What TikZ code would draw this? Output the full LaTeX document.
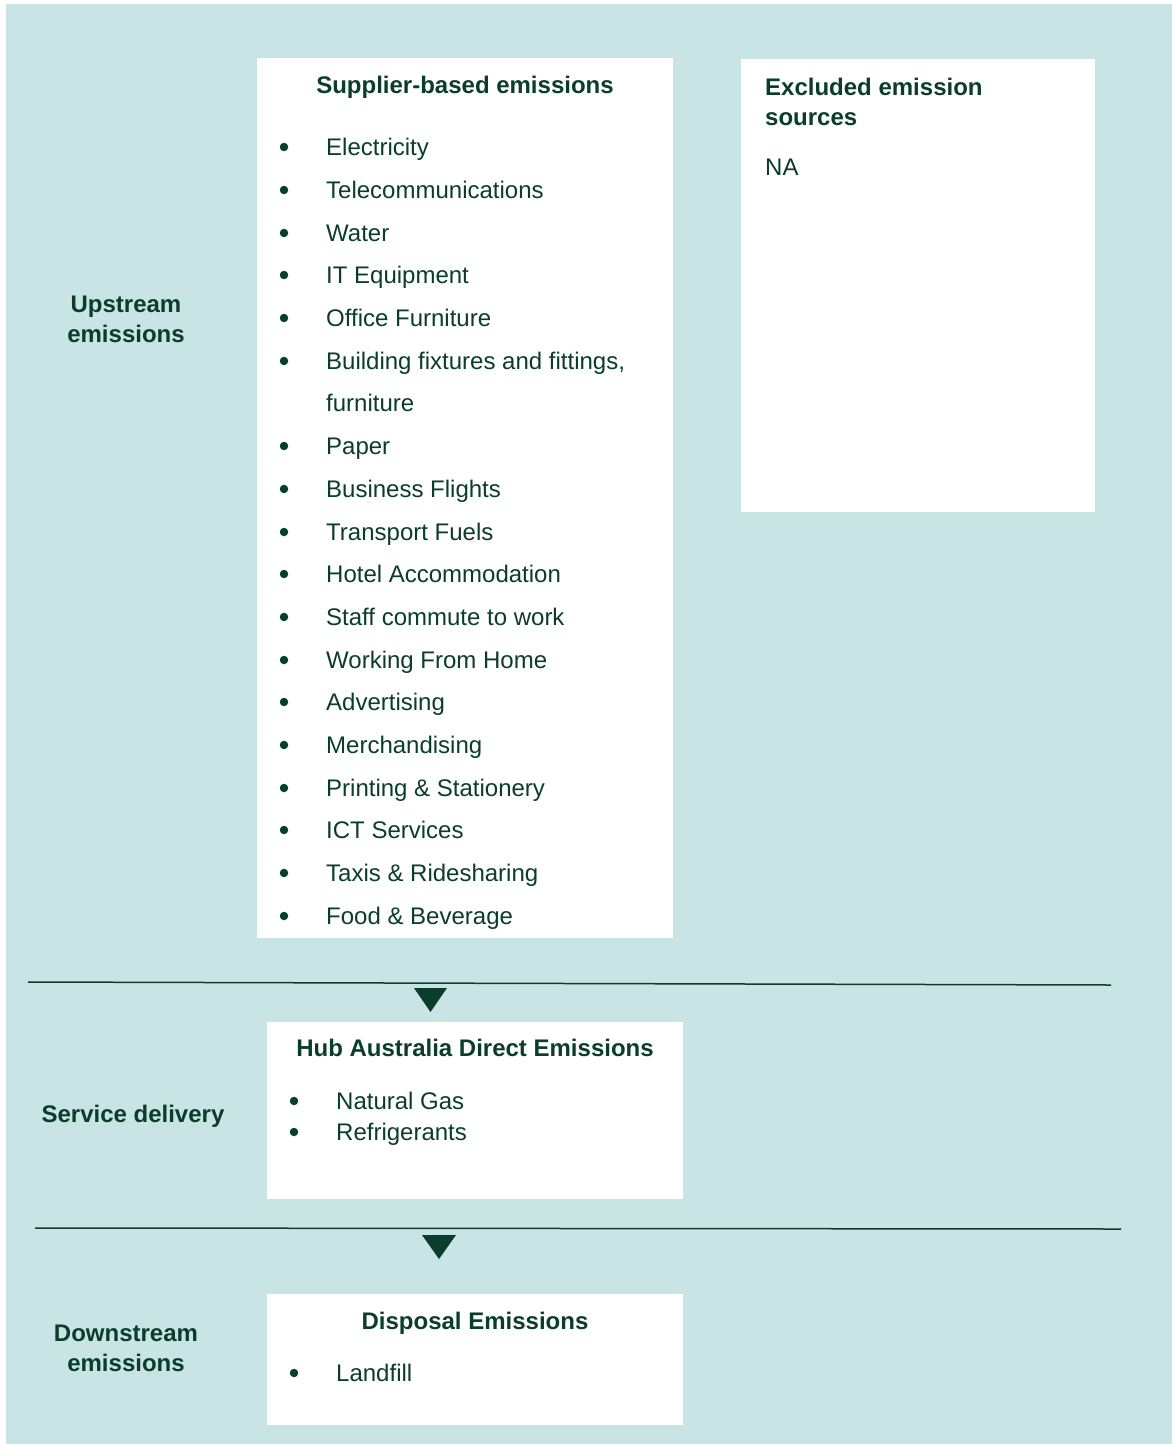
\documentclass[tikz,border=0pt]{standalone}
\usepackage{fontspec}
\setmainfont{Liberation Sans}
\definecolor{bgteal}{HTML}{C9E4E5}
\definecolor{ink}{HTML}{0B3D2C}
\tikzset{
  panel/.style={fill=white, inner sep=0pt, anchor=north west},
  head/.style={font=\bfseries\fontsize{24}{30}\selectfont, text=ink, inner sep=0pt},
  entry/.style={font=\fontsize{24}{30}\selectfont, text=ink, inner sep=0pt, anchor=base west},
  dot/.style={circle, fill=ink, inner sep=0pt, minimum size=8.5pt},
  rule/.style={draw=ink, line width=1.5pt}
}
\begin{document}
\begin{tikzpicture}[x=1pt, y=-1pt]
    \useasboundingbox (0,0) rectangle (1172,1444);
    \fill[white] (0,0) rectangle (1172,1444);
    \fill[bgteal] (6,4) rectangle (1172,1444);
    % panels
    \node (sup) at (257,58) [panel, minimum width=416pt, minimum height=880pt] {};
    \node (exc) at (741,59) [panel, minimum width=354pt, minimum height=453pt] {};
    \node (hub) at (267,1022) [panel, minimum width=416pt, minimum height=177pt] {};
    \node (dis) at (267,1294) [panel, minimum width=416pt, minimum height=131pt] {};
    % stage labels
    \node (up) at (126,296) [head, anchor=north, align=center] {Upstream\\emissions};
    \node (sd) at (133,1122) [head, anchor=base] {Service delivery};
    \node (down) at (126,1325) [head, anchor=north, align=center] {Downstream\\emissions};
    % supplier list
    \node (h1) at (465,93) [head, anchor=base] {Supplier-based emissions};
    \foreach \y/\txt in {147/Electricity, 190/Telecommunications, 233/Water,
        275/IT Equipment, 318/Office Furniture, 361/{Building fixtures and fittings,},
        446/Paper, 489/Business Flights, 532/Transport Fuels,
        574/Hotel Accommodation, 617/Staff commute to work, 660/Working From Home,
        702/Advertising, 745/Merchandising, 788/Printing \& Stationery,
        830/ICT Services, 873/Taxis \& Ridesharing, 916/Food \& Beverage} {
      \node (b\y) at (284,\y) [dot] {};
      \node (t\y) at (326,\y+8) [entry] {\txt};
    }
    \node (t403) at (326,411) [entry] {furniture};
    % excluded
    \node (h2) at (765,78) [head, anchor=north west, align=left] {Excluded emission\\sources};
    \node (na) at (765,175) [entry] {NA};
    % direct
    \node (h3) at (475,1056) [head, anchor=base] {Hub Australia Direct Emissions};
    \node (b1) at (294,1101) [dot] {};
    \node (n1) at (336,1109) [entry] {Natural Gas};
    \node (b2) at (294,1132) [dot] {};
    \node (n2) at (336,1140) [entry] {Refrigerants};
    % disposal
    \node (h4) at (475,1329) [head, anchor=base] {Disposal Emissions};
    \node (b3) at (294,1373) [dot] {};
    \node (n3) at (336,1381) [entry] {Landfill};
    % dividers
    \coordinate (r1) at (28,982);
    \coordinate (r2) at (1111,985);
    \coordinate (r3) at (35,1228);
    \coordinate (r4) at (1121,1229);
    \draw[rule] (r1) -- (r2);
    \draw[rule] (r3) -- (r4);
    \fill[ink] (414,988) -- (447,988) -- (430.5,1012) -- cycle;
    \fill[ink] (422,1235) -- (456,1235) -- (439,1259) -- cycle;
\end{tikzpicture}
\end{document}
